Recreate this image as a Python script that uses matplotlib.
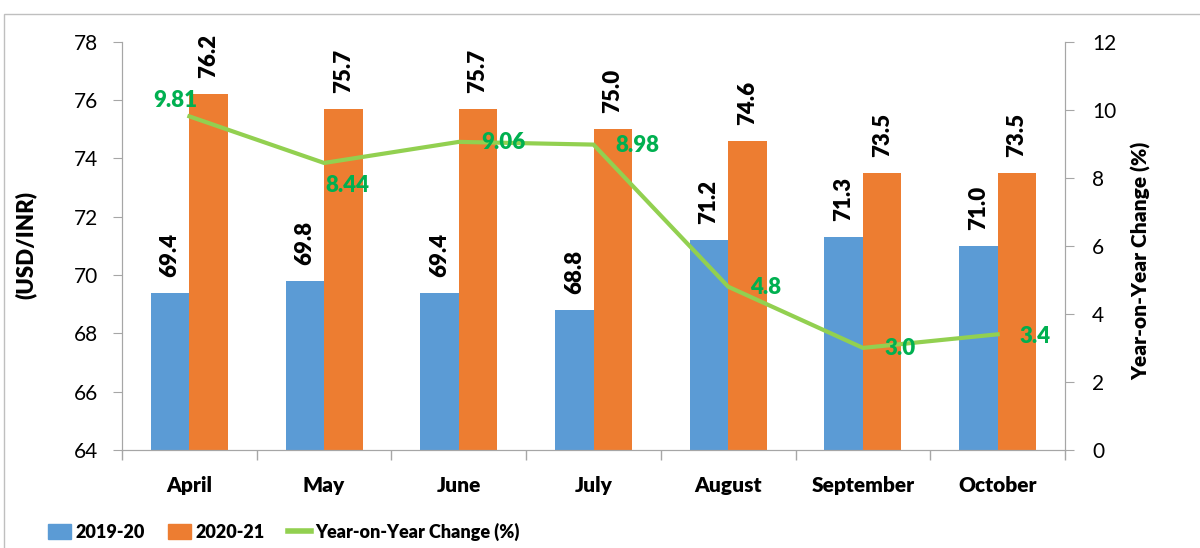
import matplotlib
matplotlib.use("Agg")
import matplotlib.pyplot as plt
from matplotlib.patches import Patch, Rectangle
from matplotlib.lines import Line2D
import numpy as np

months = ["April", "May", "June", "July", "August", "September", "October"]
rate_2019 = [69.4, 69.8, 69.4, 68.8, 71.2, 71.3, 71.0]
rate_2020 = [76.2, 75.7, 75.7, 75.0, 74.6, 73.5, 73.5]
yoy = [9.81, 8.44, 9.06, 8.98, 4.8, 3.0, 3.4]
yoy_labels = ["9.81", "8.44", "9.06", "8.98", "4.8", "3.0", "3.4"]

blue = "#5B9BD5"
orange = "#ED7D31"
green_line = "#92D050"
green_text = "#00B050"
axis_grey = "#A6A6A6"
bold = 'heavy'

plt.rcParams['font.family'] = ['Lato', 'DejaVu Sans']

fig = plt.figure(figsize=(12, 5.48), dpi=100)
ax = fig.add_axes([0.1017, 0.179, 0.7858, 0.7445])
ax2 = ax.twinx()

x = np.arange(len(months))
w = 0.286
b1 = ax.bar(x - w / 2, rate_2019, w, color=blue)
b2 = ax.bar(x + w / 2, rate_2020, w, color=orange)

ax.set_ylim(64, 78)
ax.set_yticks(np.arange(64, 79, 2))
ax.set_xlim(-0.5, len(months) - 0.5)
ax.set_xticks(x)
ax.set_xticklabels(months, fontsize=15, fontweight=bold)
ax.set_xticks(np.arange(-0.5, len(months)), minor=True)
ax.tick_params(axis='x', which='major', length=0, pad=19)
ax.tick_params(axis='x', which='minor', length=7, color=axis_grey, width=1)
ax.tick_params(axis='y', labelsize=15, length=6.5, pad=11, color=axis_grey)

# value labels above the bars
for bars, vals in ((b1, rate_2019), (b2, rate_2020)):
    for r, v in zip(bars, vals):
        ax.annotate(f"{v:.1f}", (r.get_x() + r.get_width() / 2, v),
                    xytext=(0, 16), textcoords='offset pixels',
                    ha='center', va='bottom', rotation=90,
                    fontsize=16, fontweight=bold, color='black')

ax2.plot(x, yoy, color=green_line, lw=3)
ax2.set_ylim(0, 12)
ax2.set_yticks(np.arange(0, 13, 2))
ax2.tick_params(axis='y', labelsize=15, length=6.5, pad=13, color=axis_grey)

offsets = [(-14, 16, 'center'), (23, -23, 'center'), (22, -1, 'left'),
           (22, -1, 'left'), (22, -1, 'left'), (22, -1, 'left'), (22, -2, 'left')]
for xi, v, lab, (dx, dy, ha) in zip(x, yoy, yoy_labels, offsets):
    ax2.annotate(lab, (xi, v), xytext=(dx, dy), textcoords='offset pixels',
                 ha=ha, va='center', fontsize=16, fontweight=bold,
                 color=green_text)

for a in (ax, ax2):
    a.spines['top'].set_visible(False)
    for s in ('left', 'right', 'bottom'):
        a.spines[s].set_color(axis_grey)

fig.text(26 / 1200, 0.553, "(USD/INR)", rotation=90, ha='center', va='center',
         fontsize=16, fontweight=bold)
fig.text(1141 / 1200, 0.524, "Year-on-Year Change (%)", rotation=90,
         ha='center', va='center', fontsize=15, fontweight=bold)

handles = [Patch(color=blue), Patch(color=orange),
           Line2D([], [], color=green_line, lw=4)]
fig.legend(handles, ["2019-20", "2020-21", "Year-on-Year Change (%)"],
           loc='center left', bbox_to_anchor=(0.04, 0.029), ncol=3,
           frameon=False, borderpad=0, borderaxespad=0,
           handlelength=1.3, handleheight=0.9, handletextpad=0.2,
           columnspacing=1.3,
           prop={'weight': bold, 'size': 13})

# chart area border (cropped at right and bottom)
fig.patches.append(Rectangle((4 / 1200, -0.1), 1.2, 0.9745 + 0.1,
                             transform=fig.transFigure, fill=False,
                             edgecolor='#BFBFBF', lw=1))

fig.savefig("out.png", dpi=100)
